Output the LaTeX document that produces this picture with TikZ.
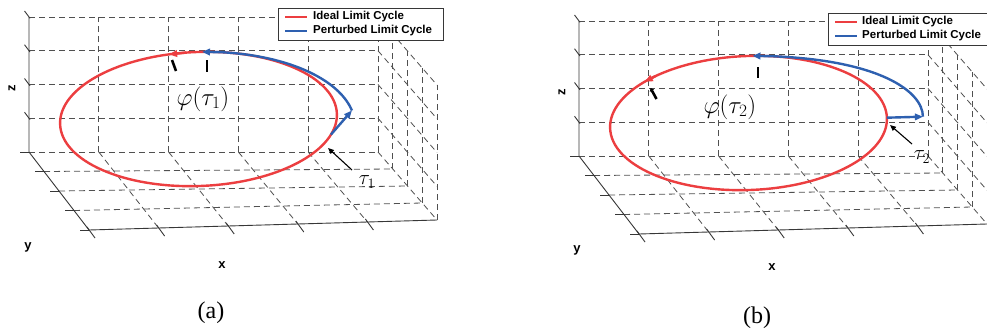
\documentclass[tikz,border=0pt]{standalone}
\usepackage{fontspec}
\setmainfont{Liberation Serif}
\setsansfont{Liberation Sans}
\usetikzlibrary{calc,arrows.meta}
\definecolor{gridc}{RGB}{80,80,80}
\definecolor{axisc}{RGB}{55,55,55}
\definecolor{redc}{RGB}{236,62,64}
\definecolor{bluec}{RGB}{46,96,176}
\tikzset{
 gridline/.style={draw=gridc, line width=0.8pt, dash pattern=on 6pt off 4pt},
 axisline/.style={draw=axisc, line width=0.9pt},
 ideal/.style={draw=redc, line width=2.4pt},
 pert/.style={draw=bluec, line width=2.4pt},
 redtip/.style={-{Triangle[length=8pt,width=6.5pt]}},
 markstroke/.style={draw=black, line width=2.6pt},
 pointer/.style={draw=black, line width=1.1pt, -{Triangle[length=6pt,width=5pt]}},
 axlab/.style={font=\sffamily\bfseries\fontsize{13}{15}\selectfont, inner sep=0pt},
 leg/.style={font=\sffamily\bfseries\fontsize{11.5}{13}\selectfont, anchor=west, inner sep=0pt},
 legbox/.style={draw=axisc, fill=white, line width=0.8pt, minimum width=165pt, minimum height=32pt, anchor=north west, inner sep=0pt},
 phil/.style={font=\fontsize{24}{28}\selectfont, inner sep=0pt},
 taul/.style={font=\fontsize{20}{24}\selectfont, inner sep=0pt},
 capt/.style={font=\fontsize{24}{28}\selectfont, inner sep=0pt},
}
\newcommand\myframe{%
 \coordinate (B0) at (29,152);
 \coordinate (B1) at (378,152);
 \coordinate (F0) at (89,230);
 \coordinate (F1) at (437,220);
 \coordinate (T0) at (29,17);
 % back wall
 \foreach \kk in {0,...,4}{\draw[gridline] ($(B0)+(0,-33.75*\kk)$) -- ($(B1)+(0,-33.75*\kk)$);}
 \foreach \nn in {1,...,5}{\pgfmathsetmacro\fr{\nn/5}\draw[gridline] ($(B0)!\fr!(B1)$) -- ++(0,-135);}
 % floor
 \foreach \nn in {1,...,5}{\pgfmathsetmacro\fr{\nn/5}\draw[gridline] ($(B0)!\fr!(B1)$) -- ($(F0)!\fr!(F1)$);}
 \foreach \nn in {1,...,3}{\pgfmathsetmacro\fr{\nn/4}\draw[gridline] ($(B0)!\fr!(F0)$) -- ($(B1)!\fr!(F1)$);}
 % right wall
 \foreach \nn in {1,...,4}{\pgfmathsetmacro\fr{\nn/4}\draw[gridline] ($(B1)!\fr!(F1)$) -- ++(0,-135);}
 \foreach \kk in {1,...,4}{\draw[gridline] ($(B1)+(0,-33.75*\kk)$) -- ($(F1)+(0,-33.75*\kk)$);}
 % axes
 \draw[axisline] (T0) -- (B0) -- (F0) -- (F1);
 \foreach \kk in {1,...,4}{\draw[axisline] ($(B0)+(1,1.3-33.75*\kk)$) -- ++(-5.5,-7.3);}
 \foreach \nn in {0,...,4}{\pgfmathsetmacro\fr{\nn/4}\draw[axisline] ($(B0)!\fr!(F0)$) -- ++(-9,0);}
 \foreach \nn in {0,...,4}{\pgfmathsetmacro\fr{\nn/5}\draw[axisline] ($(F0)!\fr!(F1)+(-2,-3)$) -- ++(8,11);}
}
\begin{document}
\begin{tikzpicture}[x=1pt,y=-1pt]
\useasboundingbox (0,0) rectangle (987,332);
\clip (0,0) rectangle (987,332);
\fill[white] (0,0) rectangle (987,332);
% ---------------- panel (a)
\begin{scope}
 \myframe
 \node[axlab, rotate=90] (za) at (12,88) {z};
 \node[axlab] (ya) at (28,247) {y};
 \node[axlab] (xa) at (222,265) {x};
 \begin{scope}[shift={(198.5,119)}, rotate=2.2]
  \draw[ideal] (0,0) ellipse [x radius=138.5, y radius=67];
  \coordinate (a-r1) at ({138.5*cos(94)},{-67*sin(94)});
  \coordinate (a-r2) at ({138.5*cos(101.2)},{-67*sin(101.2)});
  \draw[ideal,redtip] (a-r1) -- (a-r2);
  \coordinate (a-s) at ({138.5*cos(-18)},{-67*sin(-18)});
  \coordinate (a-c) at ({1.11*138.5*cos(2)},{-1.11*67*sin(2)});
  \draw[pert,redtip] (a-s) -- (a-c);
  \draw[pert] plot[domain=2:80,samples=60] ({(1+0.11*((80-\x)/78)^2)*138.5*cos(\x)},{-(1+0.11*((80-\x)/78)^2)*67*sin(\x)});
  \coordinate (a-b1) at ({138.5*cos(80)},{-67*sin(80)});
  \coordinate (a-b2) at ({138.5*cos(87.5)},{-67*sin(87.5)});
  \draw[pert,redtip] (a-b1) -- (a-b2);
 \end{scope}
 \draw[markstroke] (172,60) -- (176,71);
 \draw[markstroke] (207,60) -- (207,72);
 \coordinate (ta-s) at (352,170);
 \coordinate (ta-e) at (328,148);
 \draw[pointer] (ta-s) -- (ta-e);
 \node[taul] (tau1) at (367,182) {$\tau_1$};
 \node[phil] (phi1) at (203,99) {$\varphi(\tau_1)$};
 \node[capt] (capa) at (211,313) {(a)};
 \node[legbox] (lega) at (278,8) {};
 \draw[ideal] (285,17) -- (307,17);
 \draw[pert] (285,31) -- (307,31);
 \node[leg] (lia) at (313,17) {Ideal Limit Cycle};
 \node[leg] (lpa) at (313,31) {Perturbed Limit Cycle};
\end{scope}
% ---------------- panel (b)
\begin{scope}[shift={(550,4)}]
 \myframe
 \node[axlab, rotate=90] (zb) at (12,88) {z};
 \node[axlab] (yb) at (27,246) {y};
 \node[axlab] (xb) at (222,263) {x};
 \begin{scope}[shift={(198.5,119)}, rotate=2.2]
  \draw[ideal] (0,0) ellipse [x radius=138.5, y radius=67];
  \coordinate (b-r1) at ({138.5*cos(131)},{-67*sin(131)});
  \coordinate (b-r2) at ({138.5*cos(137.5)},{-67*sin(137.5)});
  \draw[ideal,redtip] (b-r1) -- (b-r2);
  \coordinate (b-r0) at (138.5,0);
  \coordinate (b-t80) at ({138.5*cos(80)},{-67*sin(80)});
  \coordinate (b-t87) at ({138.5*cos(87.3)},{-67*sin(87.3)});
 \end{scope}
 \draw[pert,redtip] (b-r0) -- ++(36,-1) coordinate (b-c);
 \draw[pert] (b-c) .. controls +(0,-25) and (330,56) .. (b-t80);
 \draw[pert,redtip] (b-t80) -- (b-t87);
 \draw[markstroke, -{Triangle[length=3pt,width=4.5pt]}] (106.5,95) -- (100.5,84);
 \draw[markstroke] (208,63) -- (208,74);
 \coordinate (tb-s) at (362,140);
 \coordinate (tb-e) at (340,121);
 \draw[pointer] (tb-s) -- (tb-e);
 \node[taul] (tau2) at (372,153) {$\tau_2$};
 \node[phil] (phi2) at (180,103) {$\varphi(\tau_2)$};
 \node[capt] (capb) at (207,314) {(b)};
 \node[legbox] (legb) at (278,9) {};
 \draw[ideal] (285,18) -- (307,18);
 \draw[pert] (285,32) -- (307,32);
 \node[leg] (lib) at (312,18) {Ideal Limit Cycle};
 \node[leg] (lpb) at (312,32) {Perturbed Limit Cycle};
\end{scope}
\end{tikzpicture}
\end{document}
